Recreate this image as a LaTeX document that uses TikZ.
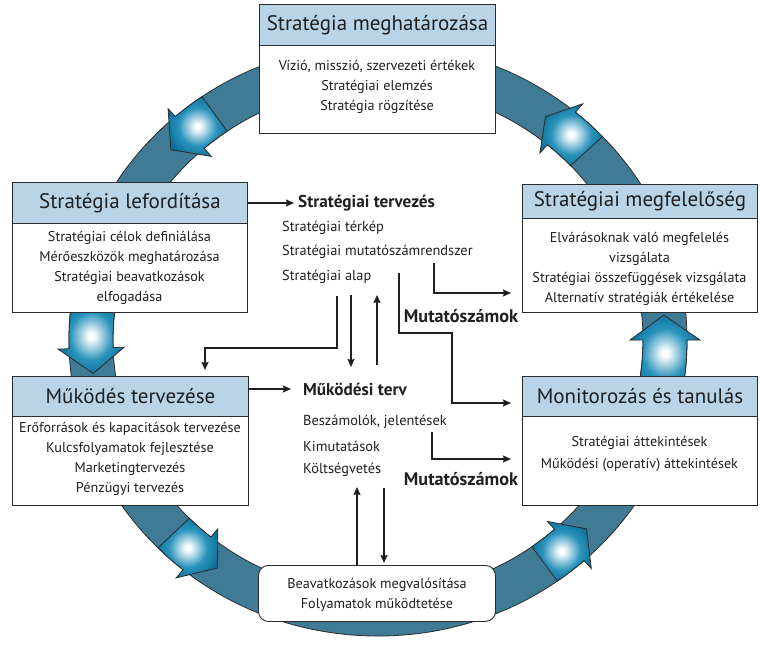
\documentclass[tikz,border=0pt]{standalone}
\usepackage{fontspec}
\setmainfont{PT Sans}
\usetikzlibrary{arrows.meta}
\definecolor{band}{HTML}{3F7B95}
\definecolor{edge}{HTML}{2B2B2B}
\definecolor{hdr}{HTML}{BAD4E7}
\definecolor{arr}{HTML}{2A93BC}
\definecolor{arrdark}{HTML}{0A6F98}
\definecolor{txt}{HTML}{1F1F1F}
\pgfdeclareradialshading{ballarrow}{\pgfpoint{0bp}{0bp}}{%
  color(0bp)=(white); color(2bp)=(white); color(16bp)=(arr);
  color(27bp)=(arrdark); color(50bp)=(arrdark)}
\newcommand\ringarrow[5]{%
  \shadedraw[draw=edge, line width=0.8, shading=ballarrow]
    (#1:309) arc[start angle=#1, end angle=#2, radius=309]
    -- (#2:#4) -- (#3:287) -- (#2:#5) -- (#2:265)
    arc[start angle=#2, end angle=#1, radius=265] -- cycle;}
\begin{document}
\begin{tikzpicture}[x=1pt,y=-1pt,
  hdrbox/.style={draw=edge, fill=hdr, line width=0.9, anchor=north west, inner sep=0, text=txt, font=\fontsize{21}{24}\selectfont},
  bodybox/.style={draw=edge, fill=white, line width=0.9, anchor=north west, inner sep=0},
  bodytext/.style={align=center, text=txt, inner sep=0, font=\fontsize{14.2}{20}\selectfont},
  coltext/.style={anchor=west, text=txt, inner sep=0, font=\fontsize{14.4}{16}\selectfont},
  boldtext/.style={anchor=west, text=txt, inner sep=0, font=\fontsize{17.2}{19}\selectfont\bfseries},
  conn/.style={draw=txt, line width=1.6, -{Stealth[length=8pt,width=7pt,inset=1pt]}}]
\useasboundingbox (0,0) rectangle (760,647);
% ring
\begin{scope}[shift={(378,340)}, yscale=-0.958]
  \fill[band, even odd rule] (0,0) circle[radius=309] (0,0) circle[radius=265];
  \draw[edge, line width=0.8] (0,0) circle[radius=309] (0,0) circle[radius=265];
  \ringarrow{124.7}{131}{136.2}{320}{254}
  \ringarrow{172}{181.7}{187}{320}{254}
  \ringarrow{224.6}{230.9}{236}{320}{254}
  \ringarrow{305.5}{311.8}{316.6}{320}{254}
  \ringarrow{-10}{0}{5.2}{322}{252}
  \ringarrow{43.4}{50.3}{54.3}{320.5}{253.5}
\end{scope}
% boxes
\node[bodybox, minimum width=236, minimum height=88] (t1) at (259,45) {};
\node[hdrbox, minimum width=236, minimum height=41] (t1h) at (259,4) {Stratégia meghatározása};
\node[bodytext] (t1t) at (377,87) {Vízió, misszió, szervezeti értékek\\Stratégiai elemzés\\Stratégia rögzítése};

\node[bodybox, minimum width=235, minimum height=89] (l1) at (12,223) {};
\node[hdrbox, minimum width=235, minimum height=41] (l1h) at (12,182) {Stratégia lefordítása};
\node[bodytext] (l1t) at (129.5,268) {Stratégiai célok definiálása\\Mérőeszközök meghatározása\\Stratégiai beavatkozások\\elfogadása};

\node[bodybox, minimum width=235, minimum height=94] (r1) at (522,218) {};
\node[hdrbox, minimum width=235, minimum height=34] (r1h) at (522,184) {Stratégiai megfelelőség};
\node[bodytext] (r1t) at (639.5,269) {Elvárásoknak való megfelelés\\vizsgálata\\Stratégiai összefüggések vizsgálata\\Alternatív stratégiák értékelése};

\node[bodybox, minimum width=236, minimum height=89] (m1) at (12,416) {};
\node[hdrbox, minimum width=236, minimum height=40] (m1h) at (12,376) {Működés tervezése};
\node[bodytext] (m1t) at (130,458.5) {Erőforrások és kapacitások tervezése\\Kulcsfolyamatok fejlesztése\\Marketingtervezés\\Pénzügyi tervezés};

\node[bodybox, minimum width=235, minimum height=89] (r2) at (522,416) {};
\node[hdrbox, minimum width=235, minimum height=40] (r2h) at (522,376) {Monitorozás és tanulás};
\node[bodytext, font=\fontsize{14.2}{22}\selectfont] (r2t) at (639.5,454) {Stratégiai áttekintések\\Működési (operatív) áttekintések};

\node[bodybox, rounded corners=10, minimum width=237, minimum height=56] (bb) at (258,565) {};
\node[bodytext] (bbt) at (377,595) {Beavatkozások megvalósítása\\Folyamatok működtetése};

% centre column
\node[boldtext] (st) at (298,203) {Stratégiai tervezés};
\node[coltext] (st1) at (282,228) {Stratégiai térkép};
\node[coltext] (st2) at (282,252) {Stratégiai mutatószámrendszer};
\node[coltext] (st3) at (282,277) {Stratégiai alap};
\node[boldtext] (mt) at (303,389) {Működési terv};
\node[coltext] (mt1) at (303,422) {Beszámolók, jelentések};
\node[coltext] (mt2) at (303,446) {Kimutatások};
\node[coltext] (mt3) at (303,470) {Költségvetés};
\node[boldtext, anchor=center, font=\fontsize{18.2}{20}\selectfont\bfseries] (ms1) at (461,316) {Mutatószámok};
\node[boldtext, anchor=center, font=\fontsize{18.2}{20}\selectfont\bfseries] (ms2) at (461,479) {Mutatószámok};

% connectors
\draw[conn, shorten >=4] (l1h.east |- st.west) -- (st.west);
\draw[conn, shorten >=12] (m1h.east |- mt.west) -- (mt.west);
\coordinate (a1) at (337,296);
\coordinate (a2) at (205,348);
\draw[conn, shorten >=6] (a1) |- (a2) -- (a2 |- m1h.north);
\coordinate (d1) at (351,295);
\coordinate (d2) at (351,367);
\draw[conn] (d1) -- (d2);
\coordinate (e1) at (377,365);
\coordinate (e2) at (377,295);
\draw[conn] (e1) -- (e2);
\coordinate (c1) at (434,263);
\coordinate (c2) at (511,293);
\draw[conn] (c1) |- (c2);
\coordinate (g1) at (399,273);
\coordinate (g2) at (452,333);
\coordinate (g3) at (511,403);
\draw[conn] (g1) |- (g2) |- (g3);
\coordinate (h1) at (432,432);
\coordinate (h2) at (511,459);
\draw[conn] (h1) |- (h2);
\coordinate (u1) at (357,487);
\draw[conn] (u1 |- bb.north) -- (u1);
\coordinate (u2) at (384,488);
\draw[conn, shorten >=2] (u2) -- (u2 |- bb.north);
\end{tikzpicture}
\end{document}
